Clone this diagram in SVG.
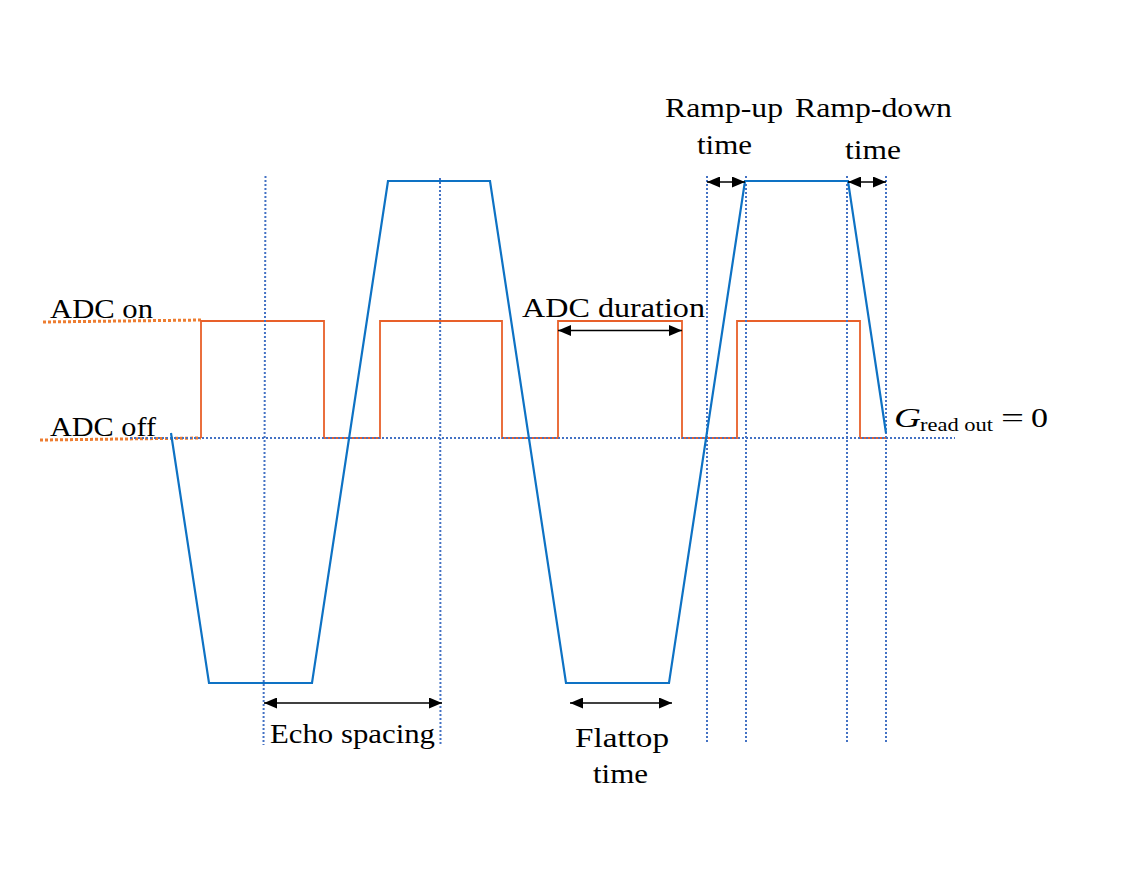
<svg xmlns="http://www.w3.org/2000/svg" width="1124" height="876" viewBox="0 0 1124 876">
<style>
.t{font-family:"Liberation Serif","Times New Roman",serif;font-size:28px;fill:#000}
.sub{font-family:"Liberation Serif","Times New Roman",serif;font-size:19px;fill:#000}
.grid{stroke:#4472C4;stroke-width:2;stroke-dasharray:2 2;fill:none}
.adcref{stroke:#ED7D31;stroke-width:3;stroke-dasharray:3 2;fill:none}
.adc{stroke:#E8602A;stroke-width:1.8;fill:none}
.grad{stroke:#0E72C4;stroke-width:2.2;fill:none}
.dim{stroke:#000;stroke-width:1.5;fill:none;marker-start:url(#ah);marker-end:url(#ah)}
</style>
<defs>
<marker id="ah" viewBox="0 0 13 11" refX="13" refY="5.5" markerWidth="13" markerHeight="11" markerUnits="userSpaceOnUse" orient="auto-start-reverse">
<path d="M0,0 L13,5.5 L0,11 Z" fill="#000"/>
</marker>
</defs>
<rect width="1124" height="876" fill="#fff"/>

<g id="adc-reference">
<path class="adcref" d="M43,322 L201,320"/>
<path class="adcref" d="M40,440 L201,438"/>
</g>

<g id="adc-signal">
<path class="adc" d="M201,438 V321 H324 V438 H380 V321 H502 V438 H558 V321 H682 V438 H737 V321 H860 V438 H886"/>
</g>

<g id="guides">
<path class="grid" d="M130,438 H955"/>
<path class="grid" d="M265.5,176 L263.5,745"/>
<path class="grid" d="M440,178 L440.5,745"/>
<path class="grid" d="M707,176 V742"/>
<path class="grid" d="M746,176 V742"/>
<path class="grid" d="M847,176 V742"/>
<path class="grid" d="M886,176 V742"/>
</g>

<g id="readout-gradient">
<path class="grad" d="M171,433 L209,683 H312 L388,181 H490 L566,683 H669 L745,181 H848 L886,433"/>
</g>

<g id="connectors">
<path class="dim" d="M264,703 H442"/>
<path class="dim" d="M570,703 H672"/>
<path class="dim" d="M558,330.5 H682"/>
<path class="dim" d="M707,182 H745"/>
<path class="dim" d="M848,182 H886"/>
</g>

<g id="labels">
<text class="t" x="50" y="318" textLength="103" lengthAdjust="spacingAndGlyphs">ADC on</text>
<text class="t" x="50" y="436" textLength="106" lengthAdjust="spacingAndGlyphs">ADC off</text>
<text class="t" x="522" y="317" textLength="183" lengthAdjust="spacingAndGlyphs">ADC duration</text>
<text class="t" x="665" y="117" textLength="118" lengthAdjust="spacingAndGlyphs">Ramp-up</text>
<text class="t" x="795" y="117" textLength="157" lengthAdjust="spacingAndGlyphs">Ramp-down</text>
<text class="t" x="697" y="154" textLength="55" lengthAdjust="spacingAndGlyphs">time</text>
<text class="t" x="845" y="159" textLength="56" lengthAdjust="spacingAndGlyphs">time</text>
<text class="t" x="270" y="743" textLength="165" lengthAdjust="spacingAndGlyphs">Echo spacing</text>
<text class="t" x="575" y="747" textLength="94" lengthAdjust="spacingAndGlyphs">Flattop</text>
<text class="t" x="593" y="783" textLength="55" lengthAdjust="spacingAndGlyphs">time</text>
</g>

<g id="equation">
<text class="t" x="894" y="427" font-style="italic" textLength="27" lengthAdjust="spacingAndGlyphs">G</text>
<text class="sub" x="920" y="431" textLength="73" lengthAdjust="spacingAndGlyphs">read out</text>
<text class="t" x="1001" y="427" textLength="23" lengthAdjust="spacingAndGlyphs">=</text>
<text class="t" x="1031" y="427" textLength="17" lengthAdjust="spacingAndGlyphs">0</text>
</g>
</svg>
